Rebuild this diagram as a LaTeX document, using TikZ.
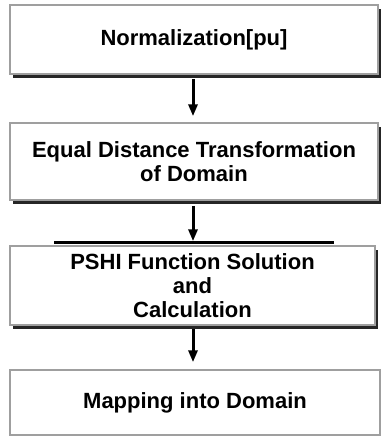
\documentclass[tikz,border=0pt]{standalone}
\usepackage{fontspec}
\setmainfont{Liberation Sans}
\usetikzlibrary{arrows.meta}
\usetikzlibrary{shadows}

\tikzset{
  stepbox/.style={draw=gray!75, line width=1.5pt, fill=white, align=center,
    font=\bfseries\fontsize{22}{24}\selectfont, inner sep=0pt,
    drop shadow={shadow xshift=3pt, shadow yshift=-4pt, fill=black!85, opacity=1}},
  flat/.style={draw=gray!75, line width=1.5pt, fill=white, align=center,
    font=\bfseries\fontsize{22}{24}\selectfont, inner sep=0pt},
  arr/.style={-{Triangle[width=9pt,length=12pt]}, line width=3pt}
}

\begin{document}
\begin{tikzpicture}[x=1pt,y=-1pt]
  \useasboundingbox (0,0) rectangle (381,436);
  \coordinate (ax) at (193,0);

  \node[stepbox, minimum width=368pt, minimum height=69pt] (norm) at (194,39.5) {Normalization[pu]};
  \node[stepbox, minimum width=368pt, minimum height=77pt] (equal) at (194,161.5)
    {Equal Distance Transformation\\of Domain};
  \node[stepbox, minimum width=365pt, minimum height=79pt] (pshi) at (192.5,285.5)
    {PSHI Function Solution\\and\\Calculation};
  \node[flat, minimum width=370pt, minimum height=65pt] (mapping) at (195,402.5) {Mapping into Domain};

  % bar over the third box
  \draw[line width=3pt] (pshi.north west) ++(45,-3) -- ++(280,0);

  \draw[arr, shorten <=4pt, shorten >=6pt] (norm.south -| ax) -- (equal.north -| ax);
  \draw[arr, shorten <=5pt, shorten >=4pt] (equal.south -| ax) -- (pshi.north -| ax);
  \draw[arr, shorten <=3pt, shorten >=7pt] (pshi.south -| ax) -- (mapping.north -| ax);
\end{tikzpicture}
\end{document}
